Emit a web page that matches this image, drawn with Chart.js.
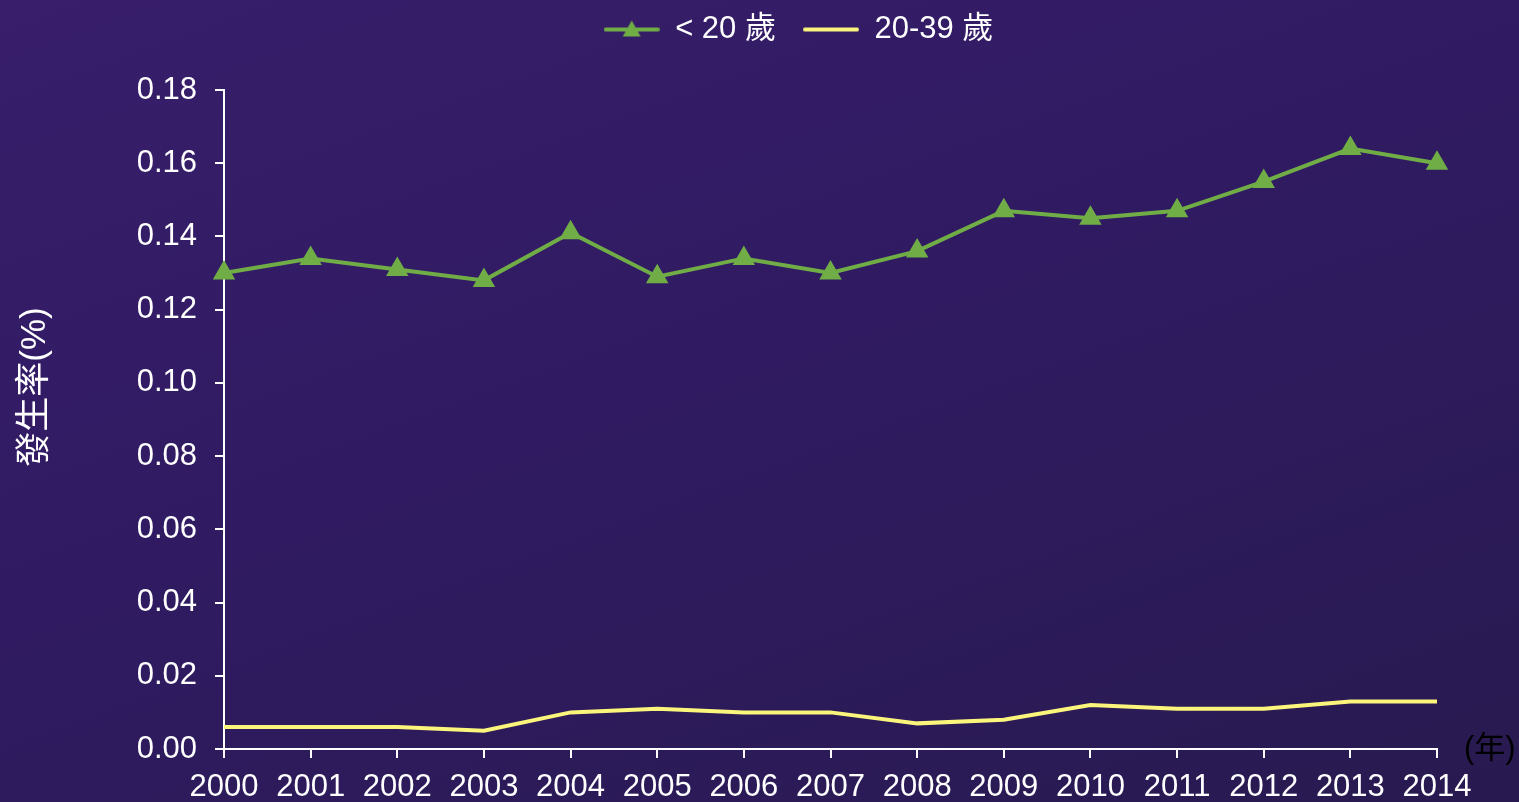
<!DOCTYPE html>
<html>
<head>
<meta charset="utf-8">
<script src="https://cdn.jsdelivr.net/npm/chart.js@4/dist/chart.umd.min.js"></script>
<style>
  html, body { margin: 0; padding: 0; }
  body {
    width: 1519px; height: 802px; overflow: hidden;
    background: linear-gradient(160deg, #381e6b 0%, #301b62 45%, #281a50 100%);
  }
  #wrap { position: relative; width: 1519px; height: 802px; }
</style>
</head>
<body>
<div id="wrap"><canvas id="rateChart"></canvas></div>
<script>
// --- datos ---
const years = ['2000', '2001', '2002', '2003', '2004', '2005', '2006', '2007',
               '2008', '2009', '2010', '2011', '2012', '2013', '2014'];
const under20 = [0.130, 0.134, 0.131, 0.128, 0.141, 0.129, 0.134, 0.130,
                 0.136, 0.147, 0.145, 0.147, 0.155, 0.164, 0.160];
const age20to39 = [0.006, 0.006, 0.006, 0.005, 0.010, 0.011, 0.010, 0.010,
                   0.007, 0.008, 0.012, 0.011, 0.011, 0.013, 0.013];
const seriesNames = ['< 20 歲', '20-39 歲'];
const yTitle = '發生率(%)';
const xUnit = '(年)';

const GREEN = '#70ad47';
const YELLOW = '#fbf57c';
const FONT = "'Liberation Sans', Arial, 'Noto Sans CJK TC', sans-serif";

// icono de leyenda: línea con marcador opcional
function legendIcon(color, withTriangle) {
    const c = document.createElement('canvas');
    c.width = 56; c.height = 22;
    const g = c.getContext('2d');
    g.strokeStyle = color;
    g.lineWidth = 4;
    g.lineCap = 'round';
    g.beginPath(); g.moveTo(2, 11); g.lineTo(54, 11); g.stroke();
    if (withTriangle) {
        g.fillStyle = color;
        g.beginPath(); g.moveTo(28, 2); g.lineTo(37, 18); g.lineTo(19, 18); g.closePath(); g.fill();
    }
    return c;
}

// leyenda desplazada y título del eje Y / unidad del eje X
const extras = {
    id: 'extras',
    afterLayout(chart) {
        const lg = chart.legend;
        lg.left += 80; lg.right += 80;
        lg.top -= 35; lg.bottom -= 35;
    },
    afterDraw(chart) {
        const { ctx, chartArea } = chart;
        ctx.save();
        ctx.font = '31px ' + FONT;
        ctx.fillStyle = '#000000';
        ctx.textAlign = 'left';
        ctx.textBaseline = 'middle';
        ctx.fillText(xUnit, chartArea.right + 27, chartArea.bottom);

        ctx.translate(35, 387);
        ctx.rotate(-Math.PI / 2);
        ctx.font = '35px ' + FONT;
        ctx.fillStyle = '#ffffff';
        ctx.textAlign = 'center';
        ctx.textBaseline = 'middle';
        ctx.fillText(yTitle, 0, 0);
        ctx.restore();
    }
};

const ctx = document.getElementById('rateChart').getContext('2d');
new Chart(ctx, {
    type: 'line',
    data: {
        labels: years,
        datasets: [{
            label: seriesNames[0],
            data: under20,
            borderColor: GREEN,
            backgroundColor: GREEN,
            borderWidth: 4,
            pointStyle: 'triangle',
            pointRadius: 9,
            pointHoverRadius: 9,
            tension: 0
        }, {
            label: seriesNames[1],
            data: age20to39,
            borderColor: YELLOW,
            backgroundColor: YELLOW,
            borderWidth: 4,
            pointRadius: 0,
            tension: 0
        }]
    },
    options: {
        responsive: true,
        maintainAspectRatio: false,
        animation: false,
        layout: { padding: { left: 0, right: 82, top: 22, bottom: 0 } },
        plugins: {
            tooltip: { enabled: false },
            legend: {
                position: 'top',
                labels: {
                    color: '#ffffff',
                    font: { family: FONT, size: 31 },
                    usePointStyle: true,
                    pointStyleWidth: 56,
                    boxHeight: 20,
                    padding: 27,
                    generateLabels: chart => chart.data.datasets.map((ds, i) => ({
                        text: ds.label,
                        fontColor: '#ffffff',
                        pointStyle: legendIcon(ds.borderColor, i === 0),
                        datasetIndex: i,
                        hidden: false,
                        lineWidth: 0
                    }))
                }
            }
        },
        scales: {
            x: {
                offset: false,
                border: { color: '#ffffff', width: 2 },
                grid: { drawOnChartArea: false, drawTicks: true, tickLength: 9, color: '#ffffff', lineWidth: 2 },
                ticks: { color: '#ffffff', font: { family: FONT, size: 31 }, padding: 11, maxRotation: 0, autoSkip: false },
                afterFit: s => { s.height = 53; }
            },
            y: {
                min: 0,
                max: 0.18,
                border: { color: '#ffffff', width: 2 },
                grid: { drawOnChartArea: false, drawTicks: true, tickLength: 9, color: '#ffffff', lineWidth: 2 },
                ticks: {
                    stepSize: 0.02,
                    color: '#ffffff',
                    font: { family: FONT, size: 31 },
                    padding: 18,
                    callback: v => v.toFixed(2)
                },
                afterFit: s => { s.width = 224; }
            }
        }
    },
    plugins: [extras]
});
</script>
</body>
</html>
